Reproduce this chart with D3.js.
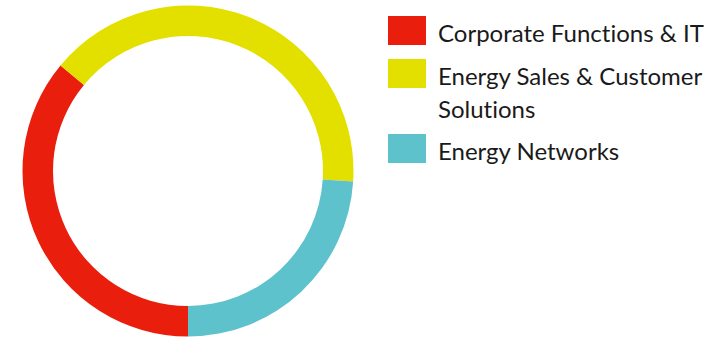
<!DOCTYPE html>
<html>
<head>
<meta charset="utf-8">
<script src="https://cdn.jsdelivr.net/npm/d3@7"></script>
<style>
  html, body { margin: 0; padding: 0; background: #fff; }
  svg { display: block; }
  text { font-variant-ligatures: none; font-feature-settings: "liga" 0, "clig" 0; }
</style>
</head>
<body>
<svg id="chart" width="723" height="338"></svg>
<script>
const categories = ["Corporate Functions & IT", "Energy Sales & Customer Solutions", "Energy Networks"];
const legendLines = [["Corporate Functions & IT"], ["Energy Sales & Customer", "Solutions"], ["Energy Networks"]];
const values = [36, 40, 24];
const colors = ["#E91E0D", "#E3E000", "#5EC2CC"];

const svg = d3.select("#chart");
const cx = 188, cy = 171, outerR = 165.5, innerR = 135;

const pie = d3.pie().sort(null).value(d => d.value)
  .startAngle(Math.PI).endAngle(3 * Math.PI);
const arc = d3.arc().innerRadius(innerR).outerRadius(outerR);
const color = d3.scaleOrdinal().domain(categories).range(colors);

const data = categories.map((c, i) => ({ name: c, value: values[i] }));

svg.append("g").attr("transform", `translate(${cx},${cy})`)
  .selectAll("path").data(pie(data)).join("path")
  .attr("d", arc)
  .attr("fill", d => color(d.data.name));

// Legend
const legendTops = [16, 59, 134];
const lg = svg.append("g");
categories.forEach((c, i) => {
  const g = lg.append("g").attr("transform", `translate(388,${legendTops[i]})`);
  g.append("rect").attr("width", 38).attr("height", 29).attr("fill", color(c));
  const t = g.append("text")
    .attr("x", 50).attr("y", 26)
    .attr("font-family", "Lato, 'Noto Sans', sans-serif")
    .attr("font-size", 24)
    .attr("fill", "#1a1a1a");
  legendLines[i].forEach((line, j) => {
    t.append("tspan").attr("x", 50).attr("dy", j === 0 ? 0 : 33).text(line);
  });
});
</script>
</body>
</html>
